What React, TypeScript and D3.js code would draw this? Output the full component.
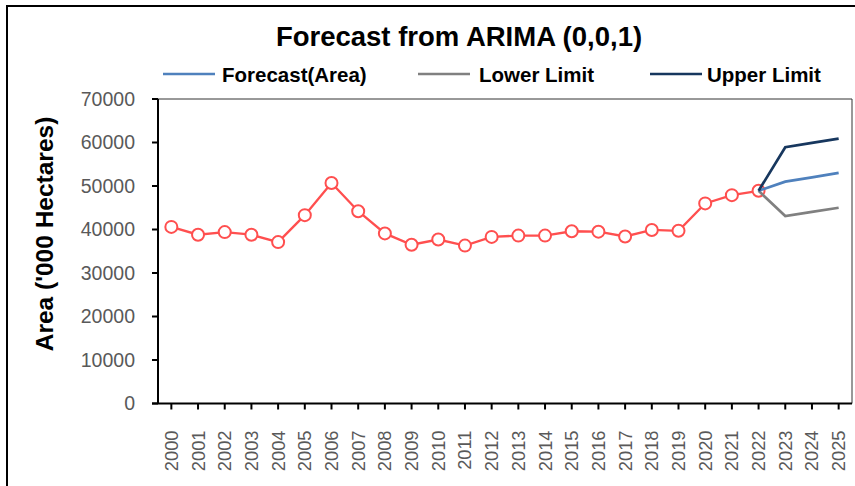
import React from "react";
import * as d3 from "d3";

const years = ["2000","2001","2002","2003","2004","2005","2006","2007","2008","2009","2010","2011","2012","2013","2014","2015","2016","2017","2018","2019","2020","2021","2022","2023","2024","2025"];
const actualArea = [40600,38800,39400,38800,37100,43300,50700,44200,39100,36500,37700,36300,38300,38600,38600,39600,39500,38400,39900,39700,46000,47900,48900];
const forecastYears = ["2022","2023","2024","2025"];
const forecastArea = [48900,51000,52000,53000];
const lowerLimit = [48900,43100,44050,45000];
const upperLimit = [48900,58900,59900,60900];
const yTicks = [0,10000,20000,30000,40000,50000,60000,70000];

const W = 855, H = 486;
const plot = { left: 158, top: 99, right: 852, bottom: 403.5 };

export default function App() {
  const x = d3.scaleBand<string>().domain(years).range([plot.left, plot.right]);
  const cx = (yr: string) => (x(yr) as number) + x.bandwidth() / 2;
  const y = d3.scaleLinear().domain([0, 70000]).range([plot.bottom, plot.top]);
  const line = d3.line<[string, number]>().x(d => cx(d[0])).y(d => y(d[1]));
  const actualPts: [string, number][] = actualArea.map((v, i) => [years[i], v]);
  const fc: [string, number][] = forecastArea.map((v, i) => [forecastYears[i], v]);
  const lo: [string, number][] = lowerLimit.map((v, i) => [forecastYears[i], v]);
  const up: [string, number][] = upperLimit.map((v, i) => [forecastYears[i], v]);
  const red = "#FF4F4F";
  const tickColor = "#595959";
  const legend = [
    { label: "Forecast(Area)", color: "#4F81BD", x1: 163, tx: 222 },
    { label: "Lower Limit", color: "#808080", x1: 418, tx: 479 },
    { label: "Upper Limit", color: "#17375E", x1: 650, tx: 707 },
  ];
  return (
    <svg width={W} height={H} style={{ position: "absolute", left: 0, top: 0 }} fontFamily="Arial, 'Liberation Sans', sans-serif">
      <rect x={0} y={0} width={W} height={H} fill="#fff" />
      <rect x={7} y={6} width={W + 10} height={H + 10} fill="none" stroke="#000" strokeWidth={2} />
      <text x={459} y={46} textAnchor="middle" fontSize={27.5} fontWeight="bold" fill="#000">Forecast from ARIMA (0,0,1)</text>
      {legend.map(l => (
        <g key={l.label}>
          <line x1={l.x1} x2={l.x1 + 52} y1={74} y2={74} stroke={l.color} strokeWidth={2.5} />
          <text x={l.tx} y={81.5} fontSize={20.5} fontWeight="bold" fill="#000">{l.label}</text>
        </g>
      ))}
      {/* plot area border (top/right) */}
      <line x1={plot.left} x2={plot.right} y1={plot.top} y2={plot.top} stroke="#333" strokeWidth={1} />
      <line x1={plot.right} x2={plot.right} y1={plot.top} y2={plot.bottom} stroke="#333" strokeWidth={1} />
      {/* y axis */}
      <line x1={plot.left} x2={plot.left} y1={plot.top} y2={plot.bottom} stroke="#000" strokeWidth={2} />
      {yTicks.map(t => (
        <g key={t}>
          <line x1={plot.left - 6} x2={plot.left} y1={y(t)} y2={y(t)} stroke="#000" strokeWidth={2} />
          <text x={135} y={y(t)} dy="0.35em" textAnchor="end" fontSize={19.5} fill={tickColor}>{t}</text>
        </g>
      ))}
      {/* x axis */}
      <line x1={plot.left - 6} x2={plot.right} y1={plot.bottom} y2={plot.bottom} stroke="#000" strokeWidth={2} />
      {years.map(yr => (
        <g key={yr}>
          <line x1={cx(yr)} x2={cx(yr)} y1={plot.bottom} y2={plot.bottom + 6} stroke="#000" strokeWidth={2} />
          <text transform={`translate(${cx(yr) + 6.5},${plot.bottom + 27}) rotate(-90)`} textAnchor="end" fontSize={18.3} fill={tickColor}>{yr}</text>
        </g>
      ))}
      <text transform={`translate(53,234) rotate(-90)`} textAnchor="middle" fontSize={24.5} fontWeight="bold" fill="#000">Area ('000 Hectares)</text>
      <path d={line(actualPts) || ""} fill="none" stroke={red} strokeWidth={2.3} />
      {actualPts.map(p => (
        <circle key={p[0]} cx={cx(p[0])} cy={y(p[1])} r={6} fill="#fff" stroke={red} strokeWidth={2} />
      ))}
      <path d={line(lo) || ""} fill="none" stroke="#808080" strokeWidth={2.7} />
      <path d={line(fc) || ""} fill="none" stroke="#4F81BD" strokeWidth={2.7} />
      <path d={line(up) || ""} fill="none" stroke="#17375E" strokeWidth={2.7} />
    </svg>
  );
}
